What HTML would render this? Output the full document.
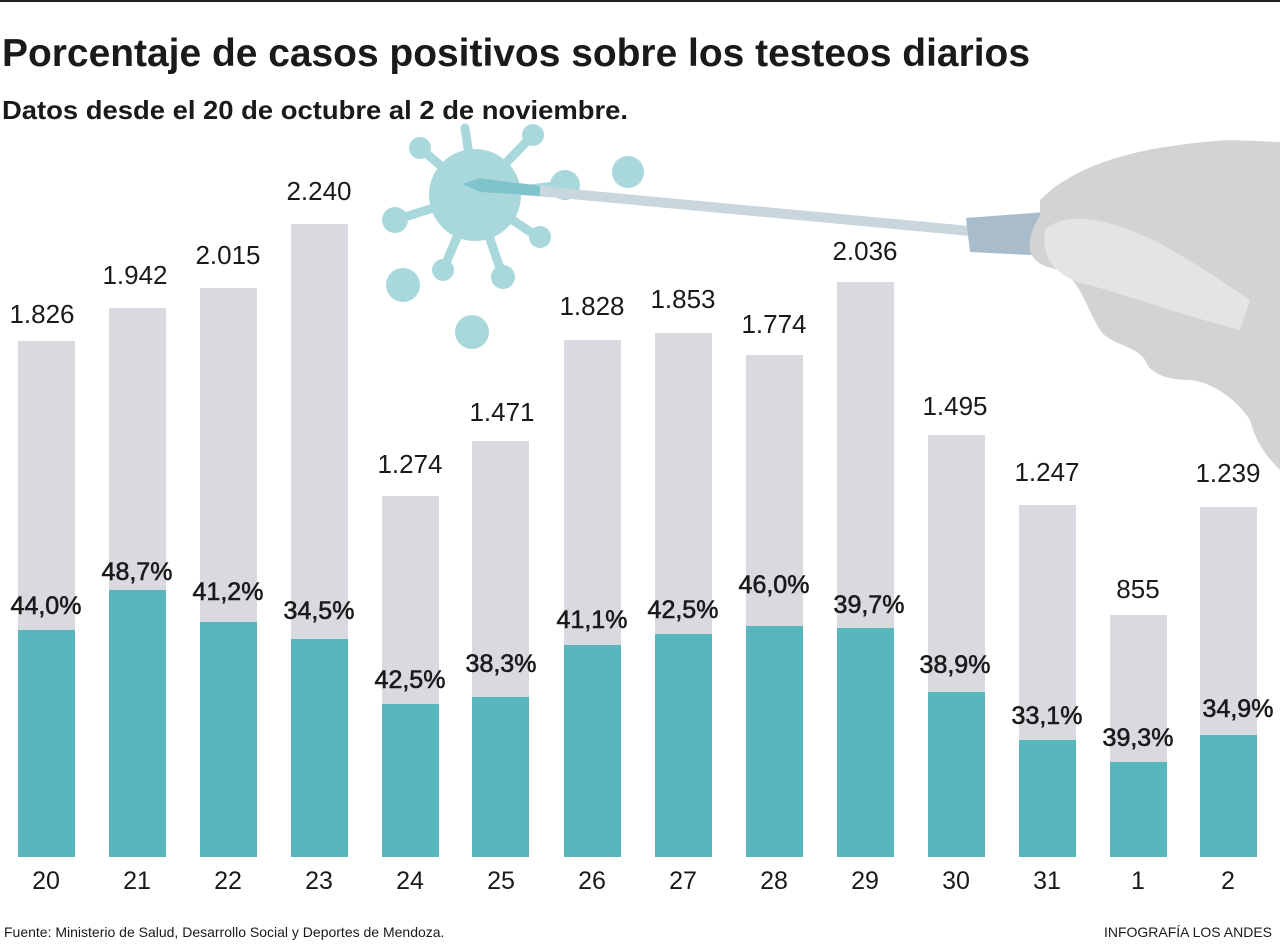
<!DOCTYPE html>
<html><head><meta charset="utf-8"><style>
body{margin:0;background:#fff;}
svg{display:block;font-family:"Liberation Sans","DejaVu Sans",sans-serif;}
</style></head><body>
<svg width="1280" height="951" viewBox="0 0 1280 951" xmlns="http://www.w3.org/2000/svg">
<rect width="1280" height="951" fill="#fff"/>
<rect x="0" y="0" width="1280" height="2" fill="#222"/>
<text x="2" y="66" font-size="39" font-weight="bold" fill="#1a1a1a" textLength="1028" lengthAdjust="spacingAndGlyphs">Porcentaje de casos positivos sobre los testeos diarios</text>
<text x="2" y="119" font-size="26" font-weight="bold" fill="#1a1a1a" textLength="626" lengthAdjust="spacingAndGlyphs">Datos desde el 20 de octubre al 2 de noviembre.</text>

<!-- virus -->
<g fill="#a8d8dc" stroke="#a8d8dc">
<g stroke-width="9" stroke-linecap="round">
<line x1="475" y1="195" x2="420" y2="148"/><line x1="475" y1="195" x2="533" y2="135"/>
<line x1="475" y1="195" x2="395" y2="220"/><line x1="475" y1="195" x2="565" y2="185"/>
<line x1="475" y1="195" x2="538" y2="237"/><line x1="475" y1="195" x2="443" y2="270"/>
<line x1="475" y1="195" x2="503" y2="277"/><line x1="475" y1="195" x2="465" y2="128"/>
</g>
<circle cx="475" cy="195" r="46" stroke="none"/>
<circle cx="420" cy="148" r="11" stroke="none"/><circle cx="533" cy="135" r="11" stroke="none"/>
<circle cx="395" cy="220" r="13" stroke="none"/><circle cx="565" cy="185" r="15" stroke="none"/>
<circle cx="540" cy="237" r="11" stroke="none"/><circle cx="443" cy="270" r="11" stroke="none"/>
<circle cx="503" cy="277" r="12" stroke="none"/>
<circle cx="628" cy="172" r="16" stroke="none"/><circle cx="403" cy="285" r="17" stroke="none"/>
<circle cx="472" cy="332" r="17" stroke="none"/>
</g>
<!-- swab -->
<path d="M462 184 L480 178 L560 188 L970 226 L970 236 L560 198 L480 192 Z" fill="#c9d6de"/>
<path d="M462 184 L480 178 L540 186 L540 196 L480 192 Z" fill="#7ec5cb"/>
<path d="M966 218 L1045 212 L1050 256 L970 252 Z" fill="#a9bccb"/>
<!-- hand -->
<path d="M1040 200 C1080 160 1150 145 1230 140 L1280 142 L1280 470 C1265 455 1255 440 1250 420 C1230 390 1200 380 1190 380 C1170 380 1150 375 1145 360 C1135 345 1110 345 1100 330 C1085 305 1080 280 1060 270 C1030 265 1020 250 1040 215 Z" fill="#d3d3d5"/>
<path d="M1045 230 C1060 215 1090 215 1130 230 C1170 245 1220 280 1250 300 L1240 330 C1200 320 1140 300 1090 285 C1060 280 1040 260 1045 230 Z" fill="#e4e4e6"/>

<g id="bars">
<g fill="#d9dadf">
<rect x="18" y="341" width="57" height="516"/><rect x="109" y="308" width="57" height="549"/>
<rect x="200" y="288" width="57" height="569"/><rect x="291" y="224" width="57" height="633"/>
<rect x="382" y="496" width="57" height="361"/><rect x="472" y="441" width="57" height="416"/>
<rect x="564" y="340" width="57" height="517"/><rect x="655" y="333" width="57" height="524"/>
<rect x="746" y="355" width="57" height="502"/><rect x="837" y="282" width="57" height="575"/>
<rect x="928" y="435" width="57" height="422"/><rect x="1019" y="505" width="57" height="352"/>
<rect x="1110" y="615" width="57" height="242"/><rect x="1200" y="507" width="57" height="350"/>
</g>
<g fill="#58b7bd">
<rect x="18" y="630" width="57" height="227"/><rect x="109" y="590" width="57" height="267"/>
<rect x="200" y="622" width="57" height="235"/><rect x="291" y="639" width="57" height="218"/>
<rect x="382" y="704" width="57" height="153"/><rect x="472" y="697" width="57" height="160"/>
<rect x="564" y="645" width="57" height="212"/><rect x="655" y="634" width="57" height="223"/>
<rect x="746" y="626" width="57" height="231"/><rect x="837" y="628" width="57" height="229"/>
<rect x="928" y="692" width="57" height="165"/><rect x="1019" y="740" width="57" height="117"/>
<rect x="1110" y="762" width="57" height="95"/><rect x="1200" y="735" width="57" height="122"/>
</g>
</g>
<g font-size="26" fill="#1a1a1a" text-anchor="middle">
<text x="42" y="323">1.826</text><text x="135" y="284">1.942</text>
<text x="228" y="264">2.015</text><text x="319" y="200">2.240</text>
<text x="410" y="473">1.274</text><text x="502" y="421">1.471</text>
<text x="592" y="315">1.828</text><text x="683" y="308">1.853</text>
<text x="774" y="333">1.774</text><text x="865" y="260">2.036</text>
<text x="955" y="415">1.495</text><text x="1047" y="481">1.247</text>
<text x="1138" y="598">855</text><text x="1228" y="482">1.239</text>
</g>
<g font-size="25" fill="#1a1a1a" text-anchor="middle" stroke="#1a1a1a" stroke-width="0.6">
<text x="46" y="614">44,0%</text><text x="137" y="580">48,7%</text>
<text x="228" y="600">41,2%</text><text x="319" y="619">34,5%</text>
<text x="410" y="688">42,5%</text><text x="501" y="672">38,3%</text>
<text x="592" y="628">41,1%</text><text x="683" y="618">42,5%</text>
<text x="774" y="593">46,0%</text><text x="869" y="613">39,7%</text>
<text x="955" y="673">38,9%</text><text x="1047" y="724">33,1%</text>
<text x="1138" y="746">39,3%</text><text x="1238" y="717">34,9%</text>
</g>
<g font-size="25" fill="#1a1a1a" text-anchor="middle">
<text x="46" y="889">20</text><text x="137" y="889">21</text><text x="228" y="889">22</text>
<text x="319" y="889">23</text><text x="410" y="889">24</text><text x="501" y="889">25</text>
<text x="592" y="889">26</text><text x="683" y="889">27</text><text x="774" y="889">28</text>
<text x="865" y="889">29</text><text x="956" y="889">30</text><text x="1047" y="889">31</text>
<text x="1138" y="889">1</text><text x="1228" y="889">2</text>
</g>
<text x="4" y="937" font-size="14" fill="#1a1a1a">Fuente: Ministerio de Salud, Desarrollo Social y Deportes de Mendoza.</text>
<text x="1272" y="937" font-size="14" fill="#1a1a1a" text-anchor="end">INFOGRAFÍA LOS ANDES</text>
</svg>
</body></html>
